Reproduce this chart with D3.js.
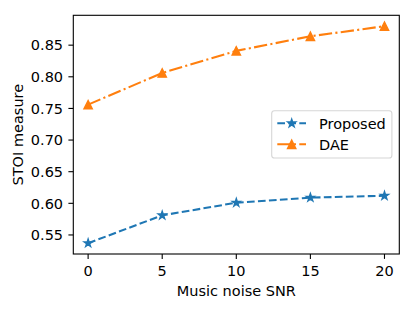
<!DOCTYPE html>
<html>
<head>
<meta charset="utf-8">
<script src="https://cdn.jsdelivr.net/npm/d3@7"></script>
<style>
  body { margin: 0; background: #fff; }
  text { font-family: "DejaVu Sans", sans-serif; fill: #000; }
</style>
</head>
<body>
<svg id="chart" width="415" height="309"></svg>
<script>
// data
var snr = [0, 5, 10, 15, 20];
var proposed = [0.537, 0.581, 0.601, 0.609, 0.612];
var dae = [0.756, 0.806, 0.841, 0.864, 0.880];
var xTicks = [0, 5, 10, 15, 20];
var yTicks = [0.55, 0.60, 0.65, 0.70, 0.75, 0.80, 0.85];
var seriesNames = ["Proposed", "DAE"];
//----------------------------------------------------------------------
var margin = { left: 73.3, top: 15.3, right: 399.3, bottom: 254 };
var fontSize = 14.5;
var svg = d3.select("#chart");
var xScale = d3.scaleLinear().domain([-1, 21]).range([margin.left, margin.right]);
var yScale = d3.scaleLinear().domain([0.5199, 0.8972]).range([margin.bottom, margin.top]);

var series = [
  { name: seriesNames[0], values: proposed, color: "#1f77b4", dash: "7.7,3.3", marker: "star" },
  { name: seriesNames[1], values: dae, color: "#ff7f0e", dash: "13.3,3.3,2.1,3.3", marker: "tri" }
];

function markerPath(type) {
  var r = 4.17;
  if (type == "tri") return "M0," + (-r) + "L" + (-r) + "," + r + "L" + r + "," + r + "Z";
  var pts = [];
  for (var k = 0; k < 10; k++) {
    var rr = k % 2 == 0 ? r : r * 0.381966;
    var a = -Math.PI / 2 + k * Math.PI / 5;
    pts.push([rr * Math.cos(a), rr * Math.sin(a)]);
  }
  return "M" + pts.map(p => p[0].toFixed(2) + "," + p[1].toFixed(2)).join("L") + "Z";
}

// ---------------------------------------------------------------------------------lines
var line = d3.line().x((d, i) => xScale(snr[i])).y(d => yScale(d));
svg.selectAll(".series").data(series).join("g").attr("class", "series")
  .attr("add_marks", function (s) {
    d3.select(this).append("path").attr("d", line(s.values)).attr("fill", "none")
      .attr("stroke", s.color).attr("stroke-width", 2.08).attr("stroke-dasharray", s.dash);
    d3.select(this).selectAll(".mk").data(s.values).join("path").attr("class", "mk")
      .attr("transform", (d, i) => "translate(" + xScale(snr[i]) + "," + yScale(d) + ")")
      .attr("d", markerPath(s.marker)).attr("fill", s.color).attr("stroke", s.color)
      .attr("stroke-width", 1.39).attr("stroke-linejoin", "miter");
  });

// ---------------------------------------------------------------------------------axes
svg.append("rect").attr("x", margin.left).attr("y", margin.top)
  .attr("width", margin.right - margin.left).attr("height", margin.bottom - margin.top)
  .attr("fill", "none").attr("stroke", "#000").attr("stroke-width", 1.1);

svg.selectAll(".xtick").data(xTicks).join("line").attr("class", "xtick")
  .attr("x1", d => xScale(d)).attr("x2", d => xScale(d))
  .attr("y1", margin.bottom).attr("y2", margin.bottom + 4.9).attr("stroke", "#000").attr("stroke-width", 1.1);
svg.selectAll(".xlab").data(xTicks).join("text").attr("class", "xlab")
  .attr("x", d => xScale(d)).attr("y", 276.3).attr("text-anchor", "middle")
  .attr("font-size", fontSize).text(d => d);

svg.selectAll(".ytick").data(yTicks).join("line").attr("class", "ytick")
  .attr("x1", margin.left - 4.9).attr("x2", margin.left)
  .attr("y1", d => yScale(d)).attr("y2", d => yScale(d)).attr("stroke", "#000").attr("stroke-width", 1.1);
svg.selectAll(".ylab").data(yTicks).join("text").attr("class", "ylab")
  .attr("x", margin.left - 10.2).attr("y", d => yScale(d) + 5.3).attr("text-anchor", "end")
  .attr("font-size", fontSize).text(d => d3.format(".2f")(d));

svg.append("text").attr("x", (margin.left + margin.right) / 2).attr("y", 295.5)
  .attr("text-anchor", "middle").attr("font-size", fontSize).text("Music noise SNR");
svg.append("text").attr("transform", "translate(22.7," + (margin.top + margin.bottom) / 2 + ") rotate(-90)")
  .attr("text-anchor", "middle").attr("font-size", fontSize).text("STOI measure");

// ---------------------------------------------------------------------------------legend
var legend = svg.append("g");
legend.append("rect").attr("x", 271.7).attr("y", 110.8).attr("width", 120.2).attr("height", 47.2)
  .attr("rx", 2.8).attr("fill", "#fff").attr("fill-opacity", 0.8).attr("stroke", "#d6d6d6").attr("stroke-width", 1.1);
legend.selectAll(".item").data(series).join("g").attr("class", "item")
  .attr("transform", (d, i) => "translate(0," + (123.3 + i * 21) + ")")
  .attr("add_item", function (s) {
    d3.select(this).append("line").attr("x1", 277.3).attr("x2", 306).attr("y1", 0).attr("y2", 0)
      .attr("stroke", s.color).attr("stroke-width", 2.08).attr("stroke-dasharray", s.dash);
    d3.select(this).append("path").attr("transform", "translate(291.7,0)").attr("d", markerPath(s.marker))
      .attr("fill", s.color).attr("stroke", s.color).attr("stroke-width", 1.39);
    d3.select(this).append("text").attr("x", 319).attr("y", 5.3).attr("font-size", fontSize).text(s.name);
  });
</script>
</body>
</html>
